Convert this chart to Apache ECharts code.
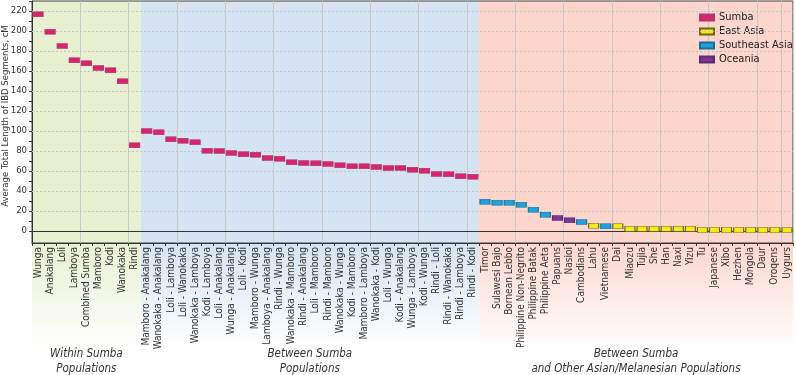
<!DOCTYPE html>
<html>
<head>
<meta charset="utf-8">
<script src="https://cdn.jsdelivr.net/npm/echarts@6/dist/echarts.min.js"></script>
<style>
  html, body { margin: 0; padding: 0; background: #fff; }
  #chart { width: 796px; height: 375px; }
</style>
</head>
<body>
<div id="chart"></div>
<script>
  // categories, left to right
  var withinNames = ['Wunga', 'Anakalang', 'Loli', 'Lamboya', 'Combined Sumba', 'Mamboro', 'Kodi', 'Wanokaka', 'Rindi']
  var withinValues = [216.7, 199.3, 185, 170.7, 167.7, 163, 160.7, 149.7, 85.7]

  var betweenNames = ['Mamboro - Anakalang', 'Wanokaka - Anakalang', 'Loli - Lamboya', 'Loli - Wanokaka',
    'Wanokaka - Lamboya', 'Kodi - Lamboya', 'Loli - Anakalang', 'Wunga - Anakalang', 'Loli - Kodi',
    'Mamboro - Wunga', 'Lamboya - Anakalang', 'Rindi - Wunga', 'Wanokaka - Mamboro', 'Rindi - Anakalang',
    'Loli - Mamboro', 'Rindi - Mamboro', 'Wanokaka - Wunga', 'Kodi - Mamboro', 'Mamboro - Lamboya',
    'Wanokaka - Kodi', 'Loli - Wunga', 'Kodi - Anakalang', 'Wunga - Lamboya', 'Kodi - Wunga',
    'Rindi - Loli', 'Rindi - Wanokaka', 'Rindi - Lamboya', 'Rindi - Kodi']
  var betweenValues = [100, 98.7, 91.7, 90.3, 88.7, 80.3, 80, 78, 76.7, 76.3, 73, 72.3, 68.7, 68,
    67.7, 67, 65.7, 64.7, 64.7, 64, 63, 63, 61.3, 60.3, 57, 56.7, 54.7, 54.3]

  var otherNames = ['Timor', 'Sulawesi Bajo', 'Bornean Lebbo', 'Philippine Non-Negrito', 'Philippine Batak',
    'Philippine Aeta', 'Papuans', 'Nasioi', 'Cambodians', 'Lahu', 'Vietnamese', 'Dai', 'Miaozu', 'Tujia',
    'She', 'Han', 'Naxi', 'Yizu', 'Tu', 'Japanese', 'Xibo', 'Hezhen', 'Mongola', 'Daur', 'Oroqens', 'Uygurs']
  var otherValues = [29.3, 28.3, 28.3, 26.3, 21.3, 16.3, 13, 10.7, 9, 5.3, 4.7, 4.7, 2.2, 2.2,
    2.2, 2.2, 2.2, 2.2, 1, 1, 1, 1, 1, 1, 1, 1]
  var otherRegions = ['Southeast Asia', 'Southeast Asia', 'Southeast Asia', 'Southeast Asia', 'Southeast Asia',
    'Southeast Asia', 'Oceania', 'Oceania', 'Southeast Asia', 'East Asia', 'Southeast Asia', 'East Asia',
    'East Asia', 'East Asia', 'East Asia', 'East Asia', 'East Asia', 'East Asia', 'East Asia', 'East Asia',
    'East Asia', 'East Asia', 'East Asia', 'East Asia', 'East Asia', 'East Asia']

  var regionNames = ['Sumba', 'East Asia', 'Southeast Asia', 'Oceania']
  var yTickLabels = [0, 20, 40, 60, 80, 100, 120, 140, 160, 180, 200, 220]
  var yMinorTicks = [0, 10, 20, 30, 40, 50, 60, 70, 80, 90, 100, 110, 120, 130, 140, 150, 160, 170, 180, 190, 200, 210, 220, 230]
  var yAxisTitle = 'Average Total Length of IBD Segments, cM'
  var sectionTitles = ['Within Sumba\nPopulations', 'Between Sumba\nPopulations', 'Between Sumba\nand Other Asian/Melanesian Populations']

  var categories = withinNames.concat(betweenNames, otherNames)
  var values = withinValues.concat(betweenValues, otherValues)
  var regions = withinNames.concat(betweenNames).map(function () { return 'Sumba' }).concat(otherRegions)
  var sectionSizes = [withinNames.length, betweenNames.length, otherNames.length]

  var font = "'Liberation Sans Narrow', 'DejaVu Sans Condensed', 'Roboto', sans-serif"
  var fill = { 'Sumba': '#d6246f', 'East Asia': '#f1ea1e', 'Southeast Asia': '#1fa2dc', 'Oceania': '#7a3896' }
  var edge = { 'Sumba': '#b0386a', 'East Asia': '#6e6414', 'Southeast Asia': '#1d6e94', 'Oceania': '#5a2a70' }
  var bandColors = ['#e8f0d1', '#d5e4f2', '#fcd6cc']

  var myChart = echarts.init(document.getElementById('chart'))

  var series = regionNames.map(function (r, k) {
    var s = {
      name: r,
      type: 'scatter',
      symbol: 'rect',
      symbolSize: [10, 5],
      itemStyle: { color: fill[r], borderColor: edge[r], borderWidth: 0.8, opacity: 1 },
      data: categories.map(function (c, i) { return [c, values[i]] })
        .filter(function (d, i) { return regions[i] === r }),
      z: 5
    }
    if (k === 0) {
      // dashed grid lines + zero line
      s.markLine = {
        silent: true,
        symbol: 'none',
        label: { show: false },
        animation: false,
        data: yTickLabels.filter(function (v) { return v > 0 }).map(function (v) {
          return { yAxis: v, lineStyle: { color: '#c2c2c2', width: 1, type: [2, 2] } }
        }).concat([{ yAxis: 0, lineStyle: { color: '#333', width: 1.2, type: 'solid' } }])
      }
    }
    return s
  })

  var option = {
    animation: false,
    textStyle: { fontFamily: font },
    grid: {
      left: 32, right: 3, top: 1, bottom: 132,
      outerBoundsMode: 'none',
      containLabel: false,
      show: true, borderColor: '#444', borderWidth: 1, backgroundColor: 'transparent'
    },
    legend: {
      data: regionNames,
      orient: 'vertical',
      left: 694,
      top: 7,
      itemWidth: 14,
      itemHeight: 6,
      itemGap: 3,
      icon: 'rect',
      textStyle: { fontFamily: font, fontSize: 11, color: '#222' }
    },
    xAxis: {
      type: 'category',
      data: categories,
      boundaryGap: true,
      axisLine: { onZero: false, lineStyle: { color: '#333' } },
      axisTick: { show: true, interval: 0, length: 3, lineStyle: { color: '#333' } },
      axisLabel: { interval: 0, rotate: 90, margin: 4, fontSize: 10, color: '#333', fontFamily: font },
      splitLine: { show: true, interval: 3, lineStyle: { color: '#c8c8c8', width: 1 } }
    },
    yAxis: {
      type: 'value',
      min: -12,
      max: 230,
      axisLine: { show: true, lineStyle: { color: '#333' } },
      axisTick: { show: true, length: 3, customValues: yMinorTicks, lineStyle: { color: '#333' } },
      axisLabel: { customValues: yTickLabels, fontSize: 9.5, color: '#333', margin: 5, fontFamily: font },
      splitLine: { show: false }
    },
    series: series
  }

  myChart.setOption(option)

  // background bands behind each section, fading out under the labels
  function drawBands() {
    var c0 = myChart.convertToPixel({ xAxisIndex: 0 }, categories[0])
    var c1 = myChart.convertToPixel({ xAxisIndex: 0 }, categories[1])
    var bw = c1 - c0
    var yTop = myChart.convertToPixel({ yAxisIndex: 0 }, 230)
    var yBot = myChart.convertToPixel({ yAxisIndex: 0 }, -12)
    var yMid = myChart.convertToPixel({ yAxisIndex: 0 }, 115)
    var graphics = []
    var start = 0
    sectionSizes.forEach(function (n, k) {
      var xl = c0 - bw / 2 + start * bw
      var w = n * bw
      graphics.push({
        type: 'rect', z: -10, silent: true,
        shape: { x: xl, y: yTop, width: w, height: yBot - yTop },
        style: { fill: bandColors[k] }
      })
      graphics.push({
        type: 'rect', z: -10, silent: true,
        shape: { x: xl, y: yBot, width: w, height: 375 - yBot },
        style: {
          fill: new echarts.graphic.LinearGradient(0, 0, 0, 1, [
            { offset: 0, color: bandColors[k] },
            { offset: 0.8, color: '#ffffff' },
            { offset: 1, color: '#ffffff' }
          ])
        }
      })
      graphics.push({
        type: 'text', z: 10, silent: true,
        x: xl + w / 2, y: 347,
        style: {
          text: sectionTitles[k],
          align: 'center', verticalAlign: 'top',
          fontFamily: font, fontStyle: 'italic', fontSize: 11.5, lineHeight: 15, fill: '#333'
        }
      })
      start += n
    })
    // y axis title
    graphics.push({
      type: 'text', z: 10, silent: true,
      x: 6, y: yMid, rotation: Math.PI / 2,
      style: {
        text: yAxisTitle, align: 'center', verticalAlign: 'middle',
        fontFamily: font, fontSize: 9.5, fill: '#333'
      }
    })
    myChart.setOption({ graphic: graphics })
  }
  drawBands()
</script>
</body>
</html>
